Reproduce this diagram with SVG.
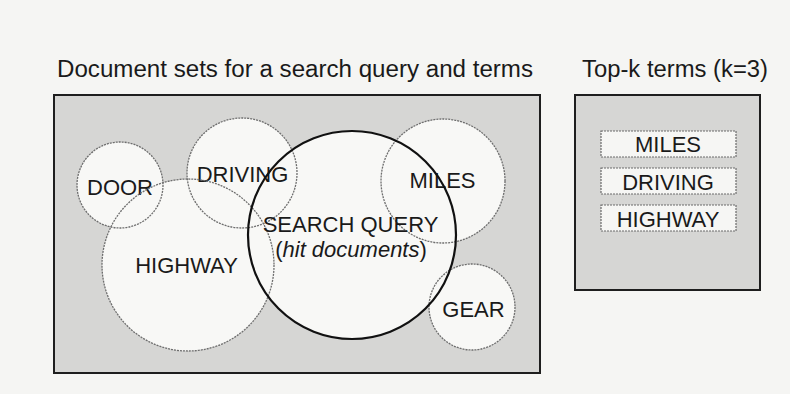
<svg xmlns="http://www.w3.org/2000/svg" xmlns:xlink="http://www.w3.org/1999/xlink" width="790" height="394" viewBox="0 0 790 394">
<style>
text{font-family:"Liberation Sans",Arial,sans-serif;fill:#1a1a1a;}
.title{font-size:23.5px;}
.lbl{font-size:22px;text-anchor:middle;}
.panel{fill:#d6d6d4;stroke:#1e1e1e;stroke-width:2;}
.fill{fill:#f8f8f6;stroke:none;}
.ol{fill:none;stroke:#6e6e6e;stroke-width:1.3;stroke-dasharray:2 1;}
.q{fill:none;stroke:#111;stroke-width:2.2;}
.tb{fill:#f6f6f4;stroke:#6a6a6a;stroke-width:1.2;stroke-dasharray:2 1;}
</style>
<defs>
<circle id="c-door" cx="120" cy="185" r="43"/>
<circle id="c-driving" cx="242" cy="173" r="55"/>
<circle id="c-miles" cx="443" cy="181" r="62"/>
<circle id="c-highway" cx="188" cy="265" r="86"/>
<circle id="c-gear" cx="472" cy="307" r="43"/>
<circle id="c-query" cx="352" cy="235" r="104"/>
</defs>
<rect width="790" height="394" fill="#f5f5f3"/>
<text class="title" x="57" y="77" textLength="476" lengthAdjust="spacingAndGlyphs">Document sets for a search query and terms</text>
<text class="title" x="582" y="77" textLength="186" lengthAdjust="spacingAndGlyphs">Top-k terms (k=3)</text>
<g id="doc-sets">
<rect class="panel" x="54" y="95" width="486" height="278"/>
</g>
<g id="fills">
<use xlink:href="#c-door" class="fill"/>
<use xlink:href="#c-driving" class="fill"/>
<use xlink:href="#c-miles" class="fill"/>
<use xlink:href="#c-highway" class="fill"/>
<use xlink:href="#c-gear" class="fill"/>
<use xlink:href="#c-query" class="fill"/>
</g>
<g id="door"><use xlink:href="#c-door" class="ol"/><text class="lbl" x="120" y="195">DOOR</text></g>
<g id="driving"><use xlink:href="#c-driving" class="ol"/><text class="lbl" x="242.5" y="182">DRIVING</text></g>
<g id="miles"><use xlink:href="#c-miles" class="ol"/><text class="lbl" x="442.5" y="188">MILES</text></g>
<g id="highway"><use xlink:href="#c-highway" class="ol"/><text class="lbl" x="186.5" y="273">HIGHWAY</text></g>
<g id="gear"><use xlink:href="#c-gear" class="ol"/><text class="lbl" x="473.5" y="317">GEAR</text></g>
<g id="search-query"><use xlink:href="#c-query" class="q"/>
<text class="lbl" x="350.5" y="232">SEARCH QUERY</text>
<text class="lbl" x="351" y="257">(<tspan font-style="italic">hit documents</tspan>)</text>
</g>
<g id="top-k">
<rect class="panel" x="575" y="95" width="185" height="195"/>
</g>
<g id="term-miles"><rect class="tb" x="601" y="131" width="135" height="26"/><text class="lbl" x="668" y="152">MILES</text></g>
<g id="term-driving"><rect class="tb" x="601" y="168" width="135" height="26"/><text class="lbl" x="668" y="190">DRIVING</text></g>
<g id="term-highway"><rect class="tb" x="601" y="205" width="135" height="26"/><text class="lbl" x="668" y="227">HIGHWAY</text></g>
</svg>
